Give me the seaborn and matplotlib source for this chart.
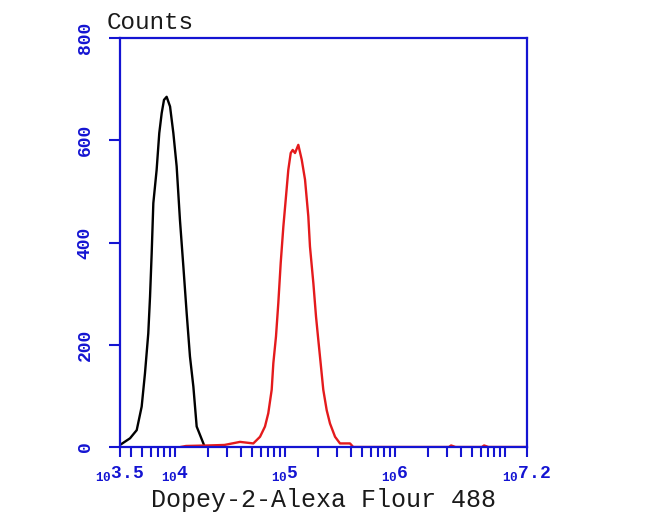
import numpy as np
import pandas as pd
import matplotlib
matplotlib.use("Agg")
import matplotlib.pyplot as plt
import seaborn as sns
from matplotlib.ticker import FixedLocator, LogLocator, NullFormatter

# log10 fluorescence positions and counts
black_log = [3.50, 3.591, 3.652, 3.697, 3.727, 3.757, 3.773, 3.788, 3.803, 3.833,
             3.857, 3.879, 3.90, 3.924, 3.955, 3.985, 4.015, 4.045, 4.076, 4.106,
             4.136, 4.167, 4.197, 4.258, 4.27]
black_cnt = [4, 17, 33, 79, 144, 222, 294, 379, 477, 542,
             614, 653, 679, 685, 666, 614, 549, 444, 353, 262,
             177, 118, 40, 7, 0]

red_log = [4.05, 4.10, 4.30, 4.45, 4.591, 4.712, 4.773, 4.818, 4.848, 4.879,
           4.894, 4.918, 4.939, 4.961, 4.985, 5.009, 5.030, 5.052, 5.070, 5.091,
           5.121, 5.152, 5.182, 5.212, 5.227, 5.258, 5.282, 5.303, 5.324, 5.348,
           5.379, 5.409, 5.455, 5.50, 5.591, 5.62, 6.49, 6.51, 6.55, 6.79,
           6.81, 6.85, 7.2]
red_cnt = [0, 2, 3, 4, 10, 7, 20, 40, 66, 112,
           164, 216, 281, 360, 431, 490, 542, 575, 581, 575,
           591, 562, 523, 451, 392, 320, 255, 209, 164, 112,
           72, 46, 20, 7, 7, 0, 0, 3, 0, 0,
           3, 0, 0]

xtick_exps = [3.5, 4, 5, 6, 7.2]
ytick_vals = [0, 200, 400, 600, 800]

blue = "#1414d2"

black = pd.DataFrame({"x": 10 ** np.array(black_log), "count": black_cnt})
red = pd.DataFrame({"x": 10 ** np.array(red_log), "count": red_cnt})

sns.set_style("white")
plt.rcParams["font.family"] = ["Liberation Mono", "DejaVu Sans"]
plt.rcParams["mathtext.default"] = "regular"

fig = plt.figure(figsize=(6.5, 5.22), dpi=100)
ax = fig.add_axes([120 / 650, 1 - 447 / 522, 407 / 650, 409 / 522])

sns.lineplot(data=black, x="x", y="count", ax=ax, color="black", lw=1.7,
             estimator=None, sort=False)
sns.lineplot(data=red, x="x", y="count", ax=ax, color="#e41a1c", lw=1.7,
             estimator=None, sort=False)

ax.set_xscale("log")
ax.set_xlim(10 ** 3.5, 10 ** 7.2)
ax.set_ylim(0, 800)

ax.xaxis.set_major_locator(FixedLocator([10 ** e for e in xtick_exps]))
ax.set_xticklabels([r"$_{10}$" + ("%g" % e) for e in xtick_exps])
ax.xaxis.set_minor_locator(LogLocator(base=10, subs=np.arange(1, 10)))
ax.xaxis.set_minor_formatter(NullFormatter())
ax.set_yticks(ytick_vals)
ax.set_yticklabels([str(v) for v in ytick_vals], rotation=90, va="center")

for side in ax.spines.values():
    side.set_color(blue)
    side.set_linewidth(1.6)
    side.set_zorder(3)

ax.tick_params(axis="x", which="both", direction="out", length=7, width=1.5,
               color=blue, labelcolor=blue, labelsize=13, pad=5, bottom=True)
ax.tick_params(axis="y", which="major", direction="out", length=8, width=1.5,
               color=blue, labelcolor=blue, labelsize=13, pad=11, left=True)
for lab in ax.get_yticklabels() + ax.get_xticklabels():
    lab.set_fontweight("bold")

ax.set_xlabel("Dopey-2-Alexa Flour 488", fontsize=18, color="#1a1a1a", labelpad=4)
ax.set_ylabel("")
fig.text(107 / 650, 1 - 29 / 522, "Counts", fontsize=17.5, color="#1a1a1a",
         va="baseline", ha="left")

fig.savefig("out.png", dpi=100)
